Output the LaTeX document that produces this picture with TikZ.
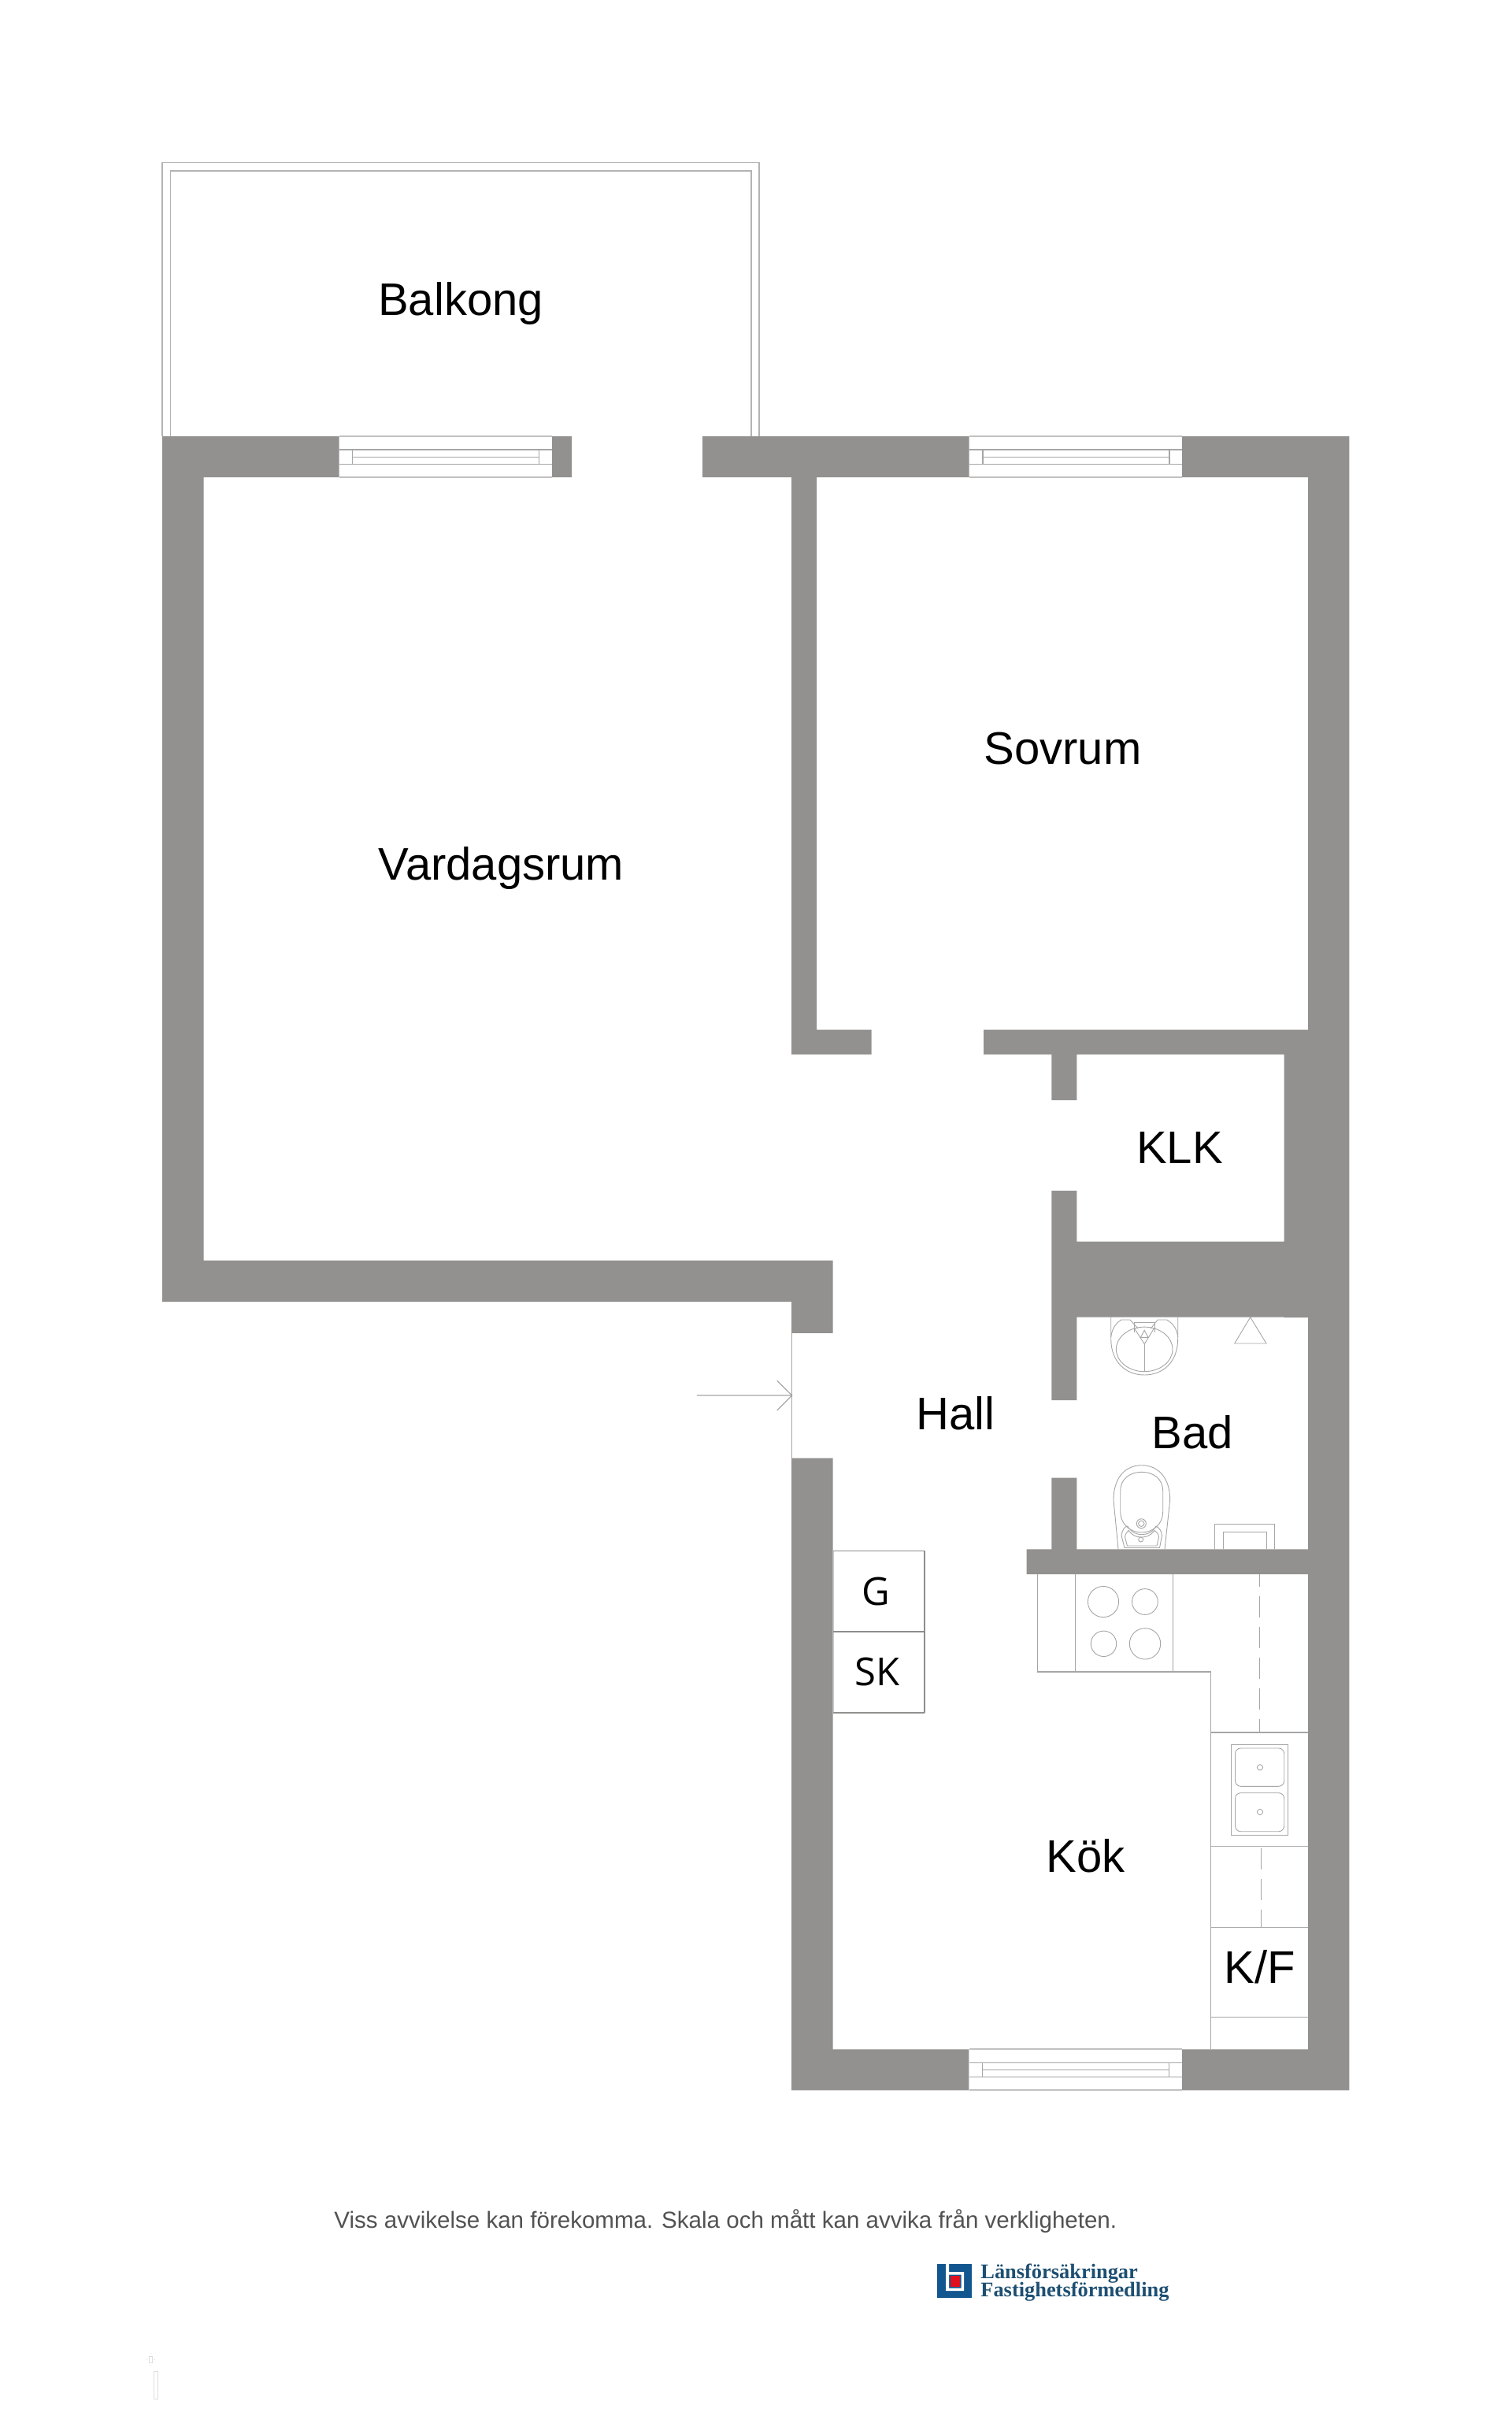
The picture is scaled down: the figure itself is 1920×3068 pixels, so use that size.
\documentclass[tikz,border=0pt]{standalone}
\usepackage{fontspec}
\setmainfont{Liberation Sans}
\newfontfamily\boxfont{Open Sans}
\newfontfamily\logofont{Liberation Serif}
\definecolor{wallgrey}{HTML}{92918F}
\definecolor{linegrey}{HTML}{A6A6A6}
\definecolor{logoblue}{HTML}{12568F}
\definecolor{logotext}{HTML}{1D4F72}
\definecolor{logored}{HTML}{E01020}
\definecolor{faintmark}{HTML}{DEDEDE}
\tikzset{
  x=0.5pt,y=-0.5pt,
  wall/.style={fill=wallgrey,draw=none},
  thinline/.style={draw=linegrey,line width=0.6pt},
  fixture/.style={draw=linegrey,line width=0.45pt},
  dashline/.style={draw=linegrey,line width=0.6pt,dash pattern=on 13.5pt off 6pt},
  room/.style={anchor=base,font=\fontsize{29}{34}\selectfont,text=black,inner sep=0pt},
  boxlabel/.style={anchor=base,font=\boxfont\fontsize{24.5}{30}\selectfont,text=black,inner sep=0pt},
  logoword/.style={anchor=base west,font=\logofont\bfseries\fontsize{13.2}{16}\selectfont,text=logotext,inner sep=0pt},
}
\begin{document}
\begin{tikzpicture}
\useasboundingbox (0,0) rectangle (1920,3068);
\fill[white] (0,0) rectangle (1920,3068);
% balcony
\draw[thinline,draw=linegrey!85] (206,554) -- (206,206.7) -- (964,206.7) -- (964,554);
\draw[thinline,draw=linegrey!85] (216.5,554) -- (216.5,217) -- (954,217) -- (954,554);
% walls
\path[wall]
 (206,554) rectangle (430.7,606)
 (701,554) rectangle (726,606)
 (206,554) rectangle (258.7,1653)
 (206,1600.5) rectangle (1057.5,1653)
 (1005,1653) rectangle (1057.5,1692.8)
 (892,554) rectangle (1230.7,606)
 (1501,554) rectangle (1713.4,606)
 (1661,554) rectangle (1713.4,2654.3)
 (1005,606) rectangle (1037,1339)
 (1005,1307.5) rectangle (1106.5,1339)
 (1249,1307.5) rectangle (1661,1339)
 (1630.5,1339) rectangle (1661,1673)
 (1335.3,1339) rectangle (1367.3,1397)
 (1335.3,1512) rectangle (1367.3,1778)
 (1367,1576.6) rectangle (1661,1672.7)
 (1335.3,1876.7) rectangle (1367.3,1967.3)
 (1303.7,1967.3) rectangle (1661,1999)
 (1005,1851.5) rectangle (1057.5,2654.3)
 (1005,2602.3) rectangle (1230.3,2654.3)
 (1501,2602.3) rectangle (1713.4,2654.3);
% windows
\foreach \xa/\xb/\xc/\xd/\yo in {430.7/701/447.3/684.5/0,1230.7/1501/1248/1485/0,1230.5/1501/1247.2/1484.4/2048.3}{
  \draw[draw=linegrey!70,line width=1pt] (\xa,554+\yo) -- (\xb,554+\yo) (\xa,606+\yo) -- (\xb,606+\yo);
  \draw[thinline] (\xa,571+\yo) -- (\xb,571+\yo) (\xa,589.5+\yo) -- (\xb,589.5+\yo)
                  (\xc,580.5+\yo) -- (\xd,580.5+\yo)
                  (\xc,571+\yo) -- (\xc,589.5+\yo) (\xd,571+\yo) -- (\xd,589.5+\yo);
}
% entrance door and arrow
\draw[thinline] (1005.7,1692.8) -- (1005.7,1851.5);
\coordinate (arrowtail) at (885,1772);
\coordinate (arrowtip) at (1005.7,1772);
\draw[thinline] (arrowtail) -- (arrowtip) (986.7,1753.3) -- (arrowtip) -- (986.7,1791);
% cupboards G, SK
\draw[thinline,draw=linegrey!60] (1058.5,1969.3) -- (1058.5,2175);
\draw[thinline,draw=linegrey!85!black] (1058,1969.3) -- (1174,1969.3) -- (1174,2072) -- (1058,2072);
\draw[thinline,draw=linegrey!85!black] (1174,2072) -- (1174,2175);
\draw[draw=wallgrey,line width=1.1pt] (1058,2175) -- (1174,2175);
% kitchen counter
\draw[thinline] (1317.7,1999) -- (1317.7,2123) -- (1537.4,2123) -- (1537.4,2602.3);
\draw[thinline] (1365.7,1999) -- (1365.7,2123) (1489.7,1999) -- (1489.7,2123);
\draw[thinline] (1537.4,2200) -- (1661,2200) (1537.4,2344.3) -- (1661,2344.3)
                (1537.4,2447.7) -- (1661,2447.7) (1537.4,2561.3) -- (1661,2561.3);
\draw[dashline,dash phase=5.5pt] (1599.4,1999) -- (1599.4,2200);
\draw[dashline,dash phase=0pt] (1601.7,2347.3) -- (1601.7,2447.7);
% hob
\draw[fixture] (1401,2034) circle[radius=19.6];
\draw[fixture] (1453.9,2034) circle[radius=16.4];
\draw[fixture] (1401.5,2087.3) circle[radius=16.2];
\draw[fixture] (1454,2087.3) circle[radius=19.7];
% kitchen sink
\draw[fixture] (1563.7,2215.3) rectangle (1635,2330);
\draw[fixture,rounded corners=3.5pt] (1568.5,2220) rectangle (1630.7,2268.3);
\draw[fixture,rounded corners=3.5pt] (1568.5,2276.7) rectangle (1630.7,2325.7);
\draw[fixture] (1600,2244.3) circle[radius=3.6] (1600,2301) circle[radius=3.6];
% bath: triangle
\draw[fixture] (1587.7,1672.7) -- (1567.7,1706) -- (1608,1706) -- cycle;
% bath: wash basin
\draw[fixture] (1410.7,1672.7) -- (1410.7,1700) .. controls (1410.7,1730) and (1430,1746) .. (1453.2,1746)
   .. controls (1476.4,1746) and (1495.7,1730) .. (1495.7,1700) -- (1495.7,1672.7);
\draw[fixture] (1453.2,1713.4) ellipse[x radius=35.8,y radius=28.3];
\draw[fixture] (1453.2,1706.7) -- (1453.2,1741.7);
\draw[fixture] (1440,1692) -- (1440,1679) -- (1466,1679) -- (1466,1692);
\draw[fixture] (1440,1686) -- (1453.2,1706.7) -- (1466,1686);
\draw[fixture] (1453.2,1689.3) -- (1448.4,1698.3) -- (1458,1698.3) -- cycle;
\draw[fixture] (1410.7,1698) .. controls (1412,1686) and (1418,1680) .. (1423.4,1676) -- (1435,1676) -- (1445,1687);
\draw[fixture] (1495.7,1698) .. controls (1494.4,1686) and (1488.4,1680) .. (1481.7,1676) -- (1470,1676) -- (1461.4,1687);
% bath: toilet
\draw[fixture] (1420,1967.3) -- (1414,1905) .. controls (1414,1875) and (1430,1860.7) .. (1449.7,1860.7)
   .. controls (1469.4,1860.7) and (1485.7,1875) .. (1485.7,1905) -- (1479,1967.3);
\draw[fixture] (1422.7,1893) .. controls (1422.7,1878) and (1435,1869.3) .. (1449.7,1869.3)
   .. controls (1464.4,1869.3) and (1476.7,1878) .. (1476.7,1893) -- (1476.7,1920)
   .. controls (1476.7,1935) and (1464.4,1946) .. (1449.7,1946)
   .. controls (1435,1946) and (1422.7,1935) .. (1422.7,1920) -- cycle;
\draw[fixture] (1449.3,1934.7) circle[radius=6] (1449.3,1934.7) circle[radius=3.7];
\draw[fixture] (1428,1965.5) -- (1424,1950) .. controls (1425,1942) and (1429,1938) .. (1431.7,1938)
   .. controls (1437,1946) and (1442,1948.5) .. (1449.7,1948.5)
   .. controls (1458,1948.5) and (1463,1946) .. (1468,1938)
   .. controls (1472,1940) and (1475,1944) .. (1475.5,1950) -- (1472.5,1965.5) -- cycle;
\draw[fixture] (1431.5,1963) -- (1428.5,1952) .. controls (1429,1948) and (1431,1945) .. (1433,1943.5)
   .. controls (1438,1950) and (1443,1952) .. (1449.7,1952)
   .. controls (1456,1952) and (1461,1950) .. (1466,1943.5)
   .. controls (1469,1945) and (1471,1948) .. (1471.5,1952) -- (1469,1963) -- cycle;
\draw[fixture] (1448.7,1955) circle[radius=3];
% bath: shower box
\draw[fixture] (1542.3,1967.3) -- (1542.3,1935.3) -- (1618.7,1935.3) -- (1618.7,1967.3);
\draw[fixture] (1553,1967.3) -- (1553,1945.3) -- (1608.3,1945.3) -- (1608.3,1967.3);
% room labels
\node[room] (balkong) at (585,400) {Balkong};
\node[room] (vardagsrum) at (636.5,1117) {Vardagsrum};
\node[room] (sovrum) at (1349.5,970.5) {Sovrum};
\node[room] (klk) at (1498,1477.4) {KLK};
\node[room] (hall) at (1213.8,1815.4) {Hall};
\node[room] (bad) at (1514.2,1839.3) {Bad};
\node[room] (kok) at (1378.5,2377) {Kök};
\node[room] (kf) at (1599.7,2518.3) {K/F};
\node[boxlabel] (g) at (1112,2038) {G};
\node[boxlabel] (sk) at (1113.6,2140.7) {SK};
% footer
\node[anchor=base west,inner sep=0pt,font=\fontsize{14.77}{18}\selectfont,text=black!68] (note) at (424,2829) {Viss avvikelse kan förekomma. Skala och mått kan avvika från verkligheten.};
% logo
\fill[logoblue] (1190,2875) rectangle (1234,2918.3);
\fill[white] (1201,2875) rectangle (1205,2909) (1201,2905.5) rectangle (1224,2909)
             (1205,2885) rectangle (1224,2888.5) (1220.5,2885) rectangle (1224,2909);
\fill[logored] (1207,2890) rectangle (1219,2904);
\node[logoword] (lf1) at (1245,2893) {Länsförsäkringar};
\node[logoword] (lf2) at (1245,2916.7) {Fastighetsförmedling};
% faint mark
\draw[faintmark,line width=0.5pt] (189.5,2992) rectangle (193,3000) (186,2996.5) -- (187,2996.5) (196,2996.5) -- (197,2996.5)
  (191,2988) -- (191,2989) (191,3004) -- (191,3005);
\draw[faintmark,line width=0.5pt] (195.7,3011.7) rectangle (200,3046);
\end{tikzpicture}
\end{document}
